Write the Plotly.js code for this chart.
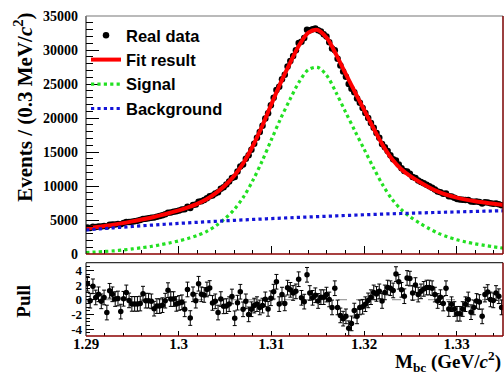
<!DOCTYPE html>
<html><head><meta charset="utf-8">
<script src="https://cdn.plot.ly/plotly-3.0.1.min.js"></script>
<style>html,body{margin:0;padding:0;background:#fff;} #chart{width:504px;height:374px;}</style>
</head><body><div id="chart"></div>
<script>
// binning of the histogram (0.3 MeV bins starting at 1.29 GeV)
const binLow = 1.29;
const binWidth = 0.0003;
// fit curves sampled every 1 MeV from 1.290 GeV
const curveStart = 1.29;
const curveStep = 0.001;

const dataCounts = [
3893,3810,3990,3954,4039,4035,4126,4051,4301,4329,
4351,4425,4374,4562,4699,4703,4748,4826,4906,4988,
5163,5173,5251,5327,5358,5488,5593,5709,5863,6082,
6100,6215,6279,6407,6546,6599,6954,6781,7209,7291,
7668,7742,7933,8212,8508,8597,8893,9072,9585,9822,
10205,10657,11191,11324,12126,12868,13168,14005,14528,15348,
16215,17113,17925,18846,19927,20704,21879,22966,24126,24602,
25711,26376,27588,28390,29118,29956,31046,31200,31754,32962,
32917,33047,33151,32909,32713,32313,31975,31151,30227,29948,
28719,27716,26825,26061,24999,24304,23776,22862,22256,21477,
20735,20015,19282,18581,17800,17093,16173,15681,15143,14511,
13938,13742,13164,12608,12192,12144,11812,11333,11187,10791,
10593,10398,10186,9961,9753,9469,9187,9079,8849,8896,
8499,8446,8270,8100,8013,7984,7955,7940,7715,7702,
7716,7645,7416,7617,7591,7448,7381,7419,7333,7155];

const pullValues = [
2.18,-0.13,1.83,0.31,0.74,-0.22,0.31,-1.75,1.22,0.74,
0.09,0.17,-1.62,0.13,1.0,-0.09,-0.57,-0.57,-0.57,-0.52,
0.83,-0.13,-0.13,-0.22,-1.22,-0.87,-0.87,-0.74,-0.13,1.31,
0.09,0.09,-0.57,-0.44,-0.35,-1.31,1.4,-2.5,0.74,-0.13,
2.18,0.74,0.65,1.4,1.6,-0.44,-0.22,-1.75,0.09,-0.9,
-0.87,-0.6,0.44,-2.53,-0.4,1.09,-1.31,-0.22,-2.0,-1.3,
-0.8,-0.6,-1.05,-0.8,0.05,-1.25,0.2,1.1,2.45,-0.6,
0.7,-0.5,1.65,1.35,0.92,1.14,2.8,0.26,-0.26,3.4,
0.92,0.26,0.61,-0.17,0.35,0.35,0.7,0.04,-1.05,1.57,
-1.05,-2.14,-2.58,-2.27,-3.89,-3.23,-1.48,-2.27,-1.05,-0.96,
-0.61,-0.09,0.35,1.0,0.79,1.14,-0.17,1.0,1.66,1.57,
1.27,3.5,2.45,1.35,0.48,2.97,2.88,0.92,2.0,0.7,
1.14,1.48,1.66,1.66,1.57,0.7,-0.17,0.35,-0.52,1.57,
-1.27,-0.61,-1.27,-1.92,-1.92,-1.27,-0.61,0.04,-1.7,-1.05,
-0.17,-0.31,-2.27,0.7,1.05,0.04,-0.09,0.92,0.48,-1.05];

const fitTotal = [3730,3925,4115,4310,4540,4800,5065,5335,5675,6035,6420,6860,7380,8040,8960,10080,11500,13415,15880,18795,22010,25170,28030,30690,32545,32950,31755,29310,26565,23870,21220,18570,16070,14015,12510,11450,10590,9830,9170,8675,8290,7995,7760,7565,7380,7220];
const fitSignal = [210,290,370,460,590,750,920,1100,1350,1620,1920,2280,2720,3300,4150,5200,6550,8400,10800,13650,16800,19900,22700,25300,27100,27450,26200,23700,20900,18150,15450,12750,10200,8100,6550,5450,4550,3750,3050,2520,2100,1770,1500,1270,1050,860];
const fitBackground = [3520,3635,3745,3850,3950,4050,4145,4235,4325,4415,4500,4580,4660,4740,4810,4880,4950,5015,5080,5145,5210,5270,5330,5390,5445,5500,5555,5610,5665,5720,5770,5820,5870,5915,5960,6000,6040,6080,6120,6155,6190,6225,6260,6295,6330,6360];

const xTickVals = [1.29, 1.30, 1.31, 1.32, 1.33];
const xTickText = ['1.29', '1.3', '1.31', '1.32', '1.33'];
const yTickVals = [0, 5000, 10000, 15000, 20000, 25000, 30000, 35000];
const yTickText = ['0', '5000', '10000', '15000', '20000', '25000', '30000', '35000'];
const pullTickVals = [-4, -2, 0, 2, 4];
const pullTickText = ['-4', '-2', '0', '2', '4'];
const seriesNames = ['Real data', 'Fit result', 'Signal', 'Background'];

const serif = 'Liberation Serif, Times New Roman, serif';
const sans = 'Liberation Sans, Arial, sans-serif';
const tickFont = {family: serif, size: 15, color: '#000', weight: 'bold'};

const traces = [
  {type: 'scatter', mode: 'markers', name: seriesNames[0], x0: binLow + binWidth / 2, dx: binWidth, y: dataCounts,
   marker: {color: '#000', size: 6.5}, xaxis: 'x', yaxis: 'y'},
  {type: 'scatter', mode: 'lines', name: seriesNames[1], x0: curveStart, dx: curveStep, y: fitTotal,
   line: {color: '#ff0000', width: 4, shape: 'spline', smoothing: 0.9}, xaxis: 'x', yaxis: 'y'},
  {type: 'scatter', mode: 'lines', name: seriesNames[2], x0: curveStart, dx: curveStep, y: fitSignal,
   line: {color: '#22e022', width: 3.2, dash: 'dot', shape: 'spline', smoothing: 0.9}, xaxis: 'x', yaxis: 'y'},
  {type: 'scatter', mode: 'lines', name: seriesNames[3], x0: curveStart, dx: curveStep, y: fitBackground,
   line: {color: '#1414d8', width: 3.2, dash: 'dot', shape: 'spline'}, xaxis: 'x', yaxis: 'y'},
  {type: 'scatter', mode: 'markers', name: 'Pull', showlegend: false, x0: binLow + binWidth / 2, dx: binWidth, y: pullValues,
   marker: {color: '#000', size: 5.5},
   error_y: {type: 'constant', value: 1, color: '#000', thickness: 1, width: 2},
   xaxis: 'x2', yaxis: 'y2'}
];

const mainBottom = 0.25625, pullTop = 0.229;
const frameShape = (x0, y0, x1, y1, color, w) => ({type: 'line', xref: 'paper', yref: 'paper', x0, y0, x1, y1, line: {color, width: w}, layer: 'above'});

const layout = {
  width: 504, height: 374,
  margin: {l: 86, r: 1, t: 16, b: 38},
  paper_bgcolor: '#fff', plot_bgcolor: '#fff',
  showlegend: true,
  legend: {x: 0.0, xanchor: 'left', y: 0.994, yanchor: 'top', bgcolor: 'rgba(0,0,0,0)', borderwidth: 0,
           font: {family: sans, size: 16.5, weight: 'bold', color: '#000'}, itemwidth: 30, tracegroupgap: 0},
  xaxis: {domain: [0, 1], anchor: 'y', range: [1.29, 1.335], tickmode: 'array', tickvals: xTickVals, ticktext: xTickText,
          showticklabels: false, ticks: 'inside', ticklen: 8, tickcolor: '#000', showgrid: false, zeroline: false, showline: false,
          minor: {tickmode: 'linear', tick0: 1.29, dtick: 0.002, ticks: 'inside', ticklen: 4, tickcolor: '#000', showgrid: false}},
  yaxis: {domain: [mainBottom, 1], anchor: 'x', range: [0, 35000], tickmode: 'array', tickvals: yTickVals, ticktext: yTickText,
          ticks: 'inside', ticklen: 13, tickcolor: '#000', tickfont: {family: serif, size: 14, color: '#000', weight: 'bold'},
          ticklabelstandoff: 7, showgrid: false, zeroline: false, showline: false,
          minor: {tickmode: 'linear', tick0: 0, dtick: 1000, ticks: 'inside', ticklen: 7, tickcolor: '#000', showgrid: false}},
  xaxis2: {domain: [0, 1], anchor: 'y2', range: [1.29, 1.335], tickmode: 'array', tickvals: xTickVals, ticktext: xTickText,
           ticks: 'inside', ticklen: 5, tickcolor: '#000', tickfont: tickFont, ticklabelstandoff: -3,
           showgrid: false, zeroline: false, showline: false,
           minor: {tickmode: 'linear', tick0: 1.29, dtick: 0.002, ticks: 'inside', ticklen: 3, tickcolor: '#000', showgrid: false}},
  yaxis2: {domain: [0, pullTop], anchor: 'x2', range: [-4.95, 5.05], tickmode: 'array', tickvals: pullTickVals, ticktext: pullTickText,
           ticks: 'inside', ticklen: 8, tickcolor: '#000', tickfont: {family: serif, size: 13, color: '#000', weight: 'bold'},
           ticklabelstandoff: 3, showgrid: false, zeroline: false, showline: false,
           minor: {tickmode: 'linear', tick0: 0, dtick: 0.5, ticks: 'inside', ticklen: 4, tickcolor: '#000', showgrid: false}},
  shapes: [
    {type: 'line', xref: 'paper', x0: 0, x1: 1, yref: 'y2', y0: 0, y1: 0, line: {color: '#888', width: 1, dash: 'dash'}, layer: 'below'},
    frameShape(0, mainBottom, 0, 1, '#000', 1),
    frameShape(0, 1, 1, 1, '#777', 1.2),
    frameShape(1, mainBottom, 1, 1, '#7a0000', 1.5),
    frameShape(0, mainBottom, 1, mainBottom, '#8b0000', 1.5),
    frameShape(0, 0, 0, pullTop, '#000', 1),
    frameShape(0, pullTop, 1, pullTop, '#333', 1.2),
    frameShape(1, 0, 1, pullTop, '#7a0000', 1.5),
    frameShape(0, 0, 1, 0, '#8b0000', 1.5)
  ],
  annotations: [
    {xref: 'paper', yref: 'paper', x: -0.149, y: 0.716, text: 'Events / (0.3 MeV/<i>c</i><sup>2</sup>)', textangle: -90,
     showarrow: false, xanchor: 'center', yanchor: 'middle', font: {family: serif, size: 21, color: '#000', weight: 'bold'}},
    {xref: 'paper', yref: 'paper', x: -0.149, y: 0.11, text: 'Pull', textangle: -90,
     showarrow: false, xanchor: 'center', yanchor: 'middle', font: {family: serif, size: 19, color: '#000', weight: 'bold'}},
    {xref: 'paper', yref: 'paper', x: 1, y: -0.081, text: 'M<sub>bc</sub> (GeV/<i>c</i><sup>2</sup>)',
     showarrow: false, xanchor: 'right', yanchor: 'middle', font: {family: serif, size: 19, color: '#000', weight: 'bold'}}
  ]
};

Plotly.newPlot('chart', traces, layout, {displayModeBar: false, staticPlot: true});
</script>
</body></html>
